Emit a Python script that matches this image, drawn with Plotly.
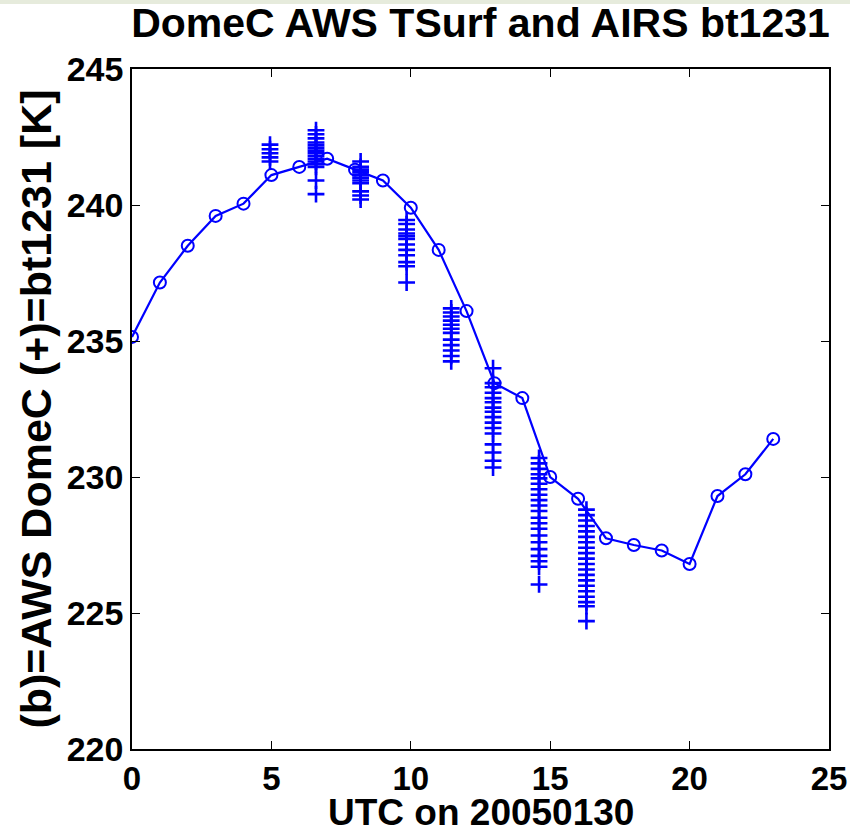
import plotly.graph_objects as go

# AWS hourly surface temperature (circles + line)
aws_hours = list(range(24))
aws_tsurf = [235.15, 237.15, 238.5, 239.6, 240.05, 241.1, 241.4, 241.7, 241.3, 240.9,
             239.9, 238.35, 236.1, 233.45, 232.9, 230.0, 229.2, 227.75, 227.5, 227.3,
             226.8, 229.3, 230.1, 231.4]

# AIRS bt1231 overpass clusters (plus markers)
airs_times = [4.95, 6.6, 8.2, 9.85, 11.45, 12.95, 14.6, 16.3]
airs_c1 = [242.22, 242.05, 241.9, 241.75, 241.6]
airs_c2 = [242.75, 242.6, 242.45, 242.3, 242.2, 242.1, 242.0, 241.9, 241.8, 241.7,
           241.6, 241.5, 241.4, 240.9, 240.4]
airs_c3 = [241.6, 241.4, 241.3, 241.2, 241.1, 241.0, 240.9, 240.8, 240.5, 240.35, 240.2]
airs_c4 = [239.45, 239.3, 239.1, 238.95, 238.85, 238.75, 238.55, 238.35, 238.15,
           237.9, 237.75, 237.15]
airs_c5 = [236.2, 236.05, 235.9, 235.75, 235.6, 235.45, 235.3, 235.05, 234.85,
           234.65, 234.45, 234.25]
airs_c6 = [234.0, 233.45, 233.3, 233.1, 232.9, 232.75, 232.55, 232.4, 232.2, 232.0,
           231.8, 231.6, 231.2, 230.9, 230.6, 230.35]
airs_c7 = [230.7, 230.5, 230.3, 230.1, 229.95, 229.75, 229.55, 229.35, 229.15, 228.95,
           228.75, 228.5, 228.3, 228.1, 227.85, 227.6, 227.35, 227.1, 226.9, 226.7, 226.05]
airs_c8 = [228.8, 228.6, 228.4, 228.2, 228.0, 227.8, 227.6, 227.4, 227.2, 227.0,
           226.8, 226.6, 226.4, 226.2, 226.0, 225.8, 225.6, 225.4, 225.25, 224.7]
airs_clusters = [airs_c1, airs_c2, airs_c3, airs_c4, airs_c5, airs_c6, airs_c7, airs_c8]

x_ticks = [0, 5, 10, 15, 20, 25]
y_ticks = [220, 225, 230, 235, 240, 245]

title_text = "DomeC AWS TSurf and AIRS bt1231"
x_title = "UTC on 20050130"
y_title = "(b)=AWS DomeC (+)=bt1231 [K]"

BLUE = "#0000ff"
FONT = "Liberation Sans"

airs_x, airs_y = [], []
for t, vals in zip(airs_times, airs_clusters):
    airs_x += [t] * len(vals)
    airs_y += vals

fig = go.Figure()
fig.add_trace(go.Scatter(
    x=aws_hours, y=aws_tsurf, mode="lines+markers",
    line=dict(color=BLUE, width=2.2),
    marker=dict(symbol="circle-open", size=12, color=BLUE, line=dict(width=2, color=BLUE)),
    showlegend=False, hoverinfo="x+y"))
fig.add_trace(go.Scatter(
    x=airs_x, y=airs_y, mode="markers",
    marker=dict(symbol="cross-thin-open", size=12, color=BLUE, line=dict(width=2.6, color=BLUE)),
    showlegend=False, hoverinfo="x+y"))

axis_common = dict(
    showline=True, linecolor="black", linewidth=1.5, mirror="ticks",
    ticks="inside", ticklen=8, tickwidth=1.2, tickcolor="black",
    showgrid=False, zeroline=False, automargin=False,
)

W, H = 850, 836
PLOT_H = H - 69 - 87
fig.update_layout(
    width=W, height=H,
    paper_bgcolor="white", plot_bgcolor="white",
    margin=dict(l=132, r=21, t=69, b=87),
    title=dict(text=title_text, x=0.5, xref="paper", y=1 - 23 / H, yanchor="middle",
               automargin=False,
               font=dict(family=FONT, size=41, color="black", weight="bold")),
    xaxis=dict(range=[0, 25], tickvals=x_ticks, ticktext=[str(v) for v in x_ticks],
               tickfont=dict(family=FONT, size=33, color="black", weight="bold"),
               **axis_common),
    yaxis=dict(range=[220, 245], tickvals=y_ticks, ticktext=[str(v) for v in y_ticks],
               tickfont=dict(family=FONT, size=34, color="black", weight="bold"),
               title=dict(text=y_title, standoff=2,
                          font=dict(family=FONT, size=43, color="black", weight="bold")),
               **axis_common),
    annotations=[dict(text=x_title, xref="paper", yref="paper", x=0.5,
                      y=-(812 - 749) / PLOT_H, xanchor="center", yanchor="middle",
                      showarrow=False,
                      font=dict(family=FONT, size=37, color="black", weight="bold"))],
    shapes=[dict(type="rect", xref="paper", yref="paper", x0=-0.2, x1=1.05,
                 y0=1 + (69 - 4) / PLOT_H, y1=1 + 69 / PLOT_H,
                 fillcolor="#e6ebdc", line=dict(width=0), layer="below")],
)

# remove the default page margin so the 850x836 figure fills the window exactly
fig.write_html(
    "out.html",
    config={"displayModeBar": False},
    post_script="document.body.style.margin='0';document.body.style.overflow='hidden';",
)
